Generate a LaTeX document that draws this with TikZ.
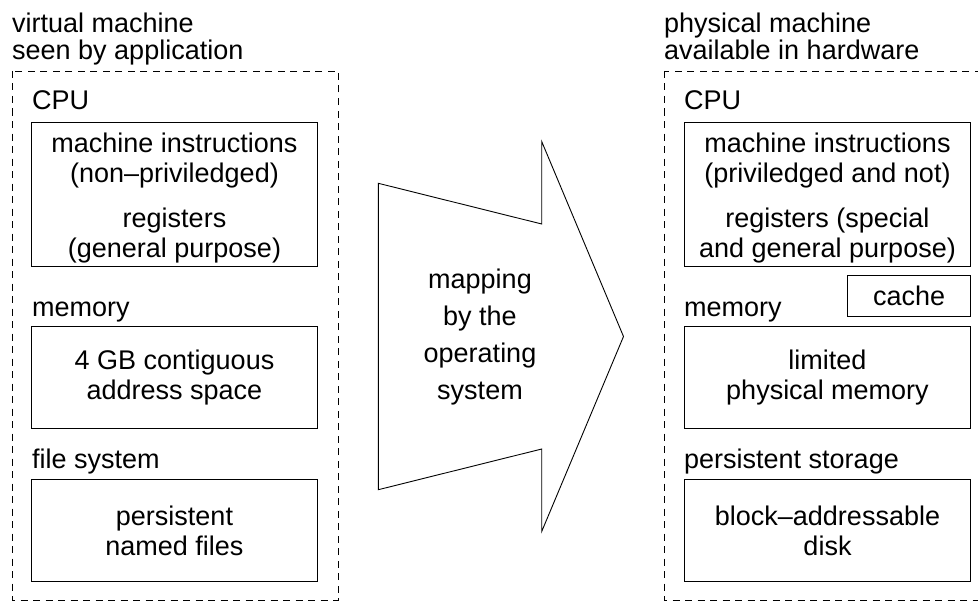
\documentclass[tikz,border=0pt]{standalone}
\usepackage{fontspec}
\setmainfont{Liberation Sans}

\tikzset{
	machine/.style={draw, dash pattern=on 7pt off 5.5pt, line width=0.9pt},
	part/.style={draw, line width=0.9pt, align=center, inner sep=0pt},
	partname/.style={anchor=base west, inner sep=0pt},
}

\begin{document}
\begin{tikzpicture}[x=1pt, y=-1pt, font=\fontsize{27}{30}\selectfont]
			%%%%% START %%%%%
			\useasboundingbox (0,0) rectangle (978,602);
			\clip (0,0) rectangle (978,602);
			
			% virtual machine
			\node[partname, align=left] (vtitle) at (12,60) {virtual machine\\[-2pt]seen by application};
			\draw[machine] (12,71) rectangle (338,600);
			
			\node[partname] (vcpuname) at (32,110) {CPU};
			\node[part, minimum width=286pt, minimum height=144pt] (vcpu) at (174.5,194)
				{\rule{0pt}{28pt}machine instructions\\(non--priviledged)\\[15pt]registers\\(general purpose)};
			
			\node[partname] (vmemname) at (32,316) {memory};
			\node[part, minimum width=286pt, minimum height=102pt] (vmem) at (174.5,377.5)
				{4 GB contiguous\\address space};
			
			\node[partname] (vfsname) at (32,468) {file system};
			\node[part, minimum width=286pt, minimum height=102pt] (vfs) at (174.5,530.5)
				{persistent\\named files};
			
			% mapping arrow
			\draw[line width=0.9pt] (378.3,183.3) -- (541.7,224) -- (541.7,141.5) -- (623.5,336.5)
				-- (541.7,531.5) -- (541.7,449) -- (378.3,489.7) -- cycle;
			\node[align=center, inner sep=0pt] (maptext) at (480,337)
				{mapping\\[7pt]by the\\[7pt]operating\\[7pt]system};
			
			% physical machine
			\node[partname, align=left] (ptitle) at (664,60) {physical machine\\[-2pt]available in hardware};
			\draw[machine] (664,71) rectangle (1000,600);
			
			\node[partname] (pcpuname) at (684,110) {CPU};
			\node[part, minimum width=286pt, minimum height=144pt] (pcpu) at (827.5,194)
				{\rule{0pt}{28pt}machine instructions\\(priviledged and not)\\[15pt]registers (special\\and general purpose)};
			
			\node[part, minimum width=123pt, minimum height=41pt] (pcache) at (909.2,295.5) {cache};
			
			\node[partname] (pmemname) at (684,316) {memory};
			\node[part, minimum width=286pt, minimum height=102pt] (pmem) at (827.5,377.5)
				{limited\\physical memory};
			
			\node[partname] (pstname) at (684,468) {persistent storage};
			\node[part, minimum width=286pt, minimum height=102pt] (pst) at (827.5,530.5)
				{block--addressable\\disk};
			
			%%%%% END %%%%%
\end{tikzpicture}
\end{document}
